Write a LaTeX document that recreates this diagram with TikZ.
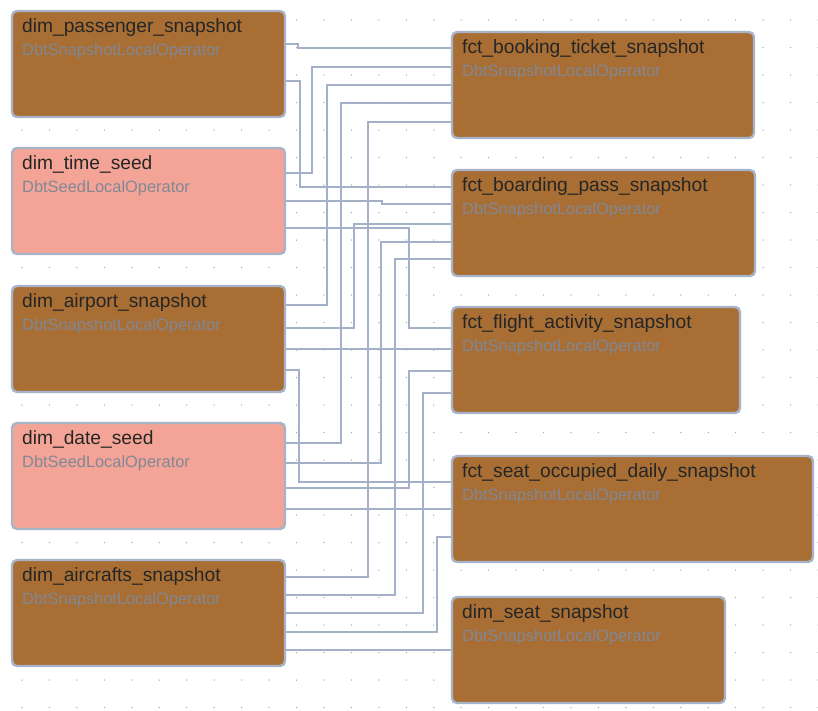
\documentclass[tikz,border=0pt]{standalone}
\usepackage{fontspec}
\setmainfont{Liberation Sans}
\definecolor{snapfill}{RGB}{168,110,52}
\definecolor{seedfill}{RGB}{244,164,151}
\definecolor{edgecol}{RGB}{163,176,199}
\definecolor{bordercol}{RGB}{166,179,200}
\definecolor{titlecol}{RGB}{38,38,38}
\definecolor{subcol}{RGB}{128,136,150}
\definecolor{dotcol}{RGB}{170,170,170}
\pgfdeclarelayer{gridlayer}
\pgfdeclarelayer{edgelayer}
\pgfsetlayers{gridlayer,edgelayer,main}
\tikzset{
  taskbox/.style={draw=bordercol, line width=2.4pt, rounded corners=5pt, anchor=north west, inner sep=0pt, outer sep=0pt},
  snap/.style={taskbox, fill=snapfill},
  seed/.style={taskbox, fill=seedfill},
  tasktitle/.style={anchor=base west, inner sep=0pt, text=titlecol, font=\fontsize{19.2}{22}\selectfont},
  tasksub/.style={anchor=base west, inner sep=0pt, text=subcol, font=\fontsize{16.4}{19}\selectfont},
  edge/.style={draw=edgecol, line width=2.8pt},
}
\newcommand\task[8]{%
  \node[#2, minimum width=#5pt, minimum height=#6pt] (#1) at (#3,#4) {};
  \node[tasktitle] (#1-t) at ([xshift=10pt,yshift=-21pt]#1.north west) {#7};
  \node[tasksub] (#1-s) at ([xshift=10pt,yshift=-44pt]#1.north west) {#8};
}
\begin{document}
\begin{tikzpicture}[x=1pt,y=-1pt]
\useasboundingbox (0,0) rectangle (818,710);
\begin{pgfonlayer}{gridlayer}
  \foreach \i in {0,...,29} {
    \foreach \j in {0,...,25} {
      \fill[dotcol] ({22+27.45*\i},{20+27.5*\j}) circle (0.75pt);
    }
  }
\end{pgfonlayer}
% left column
\task{pas}{snap}{12}{11}{273}{106}{dim\_passenger\_snapshot}{DbtSnapshotLocalOperator}
\task{time}{seed}{12}{148}{273}{106}{dim\_time\_seed}{DbtSeedLocalOperator}
\task{air}{snap}{12}{286}{273}{106}{dim\_airport\_snapshot}{DbtSnapshotLocalOperator}
\task{date}{seed}{12}{423}{273}{106}{dim\_date\_seed}{DbtSeedLocalOperator}
\task{airc}{snap}{12}{560}{273}{106}{dim\_aircrafts\_snapshot}{DbtSnapshotLocalOperator}
% right column
\task{book}{snap}{452}{32}{302}{106}{fct\_booking\_ticket\_snapshot}{DbtSnapshotLocalOperator}
\task{board}{snap}{452}{170}{303}{106}{fct\_boarding\_pass\_snapshot}{DbtSnapshotLocalOperator}
\task{flight}{snap}{452}{307}{288}{106}{fct\_flight\_activity\_snapshot}{DbtSnapshotLocalOperator}
\task{occ}{snap}{452}{456}{361}{106}{fct\_seat\_occupied\_daily\_snapshot}{DbtSnapshotLocalOperator}
\task{seat}{snap}{452}{597}{273}{106}{dim\_seat\_snapshot}{DbtSnapshotLocalOperator}
\begin{pgfonlayer}{edgelayer}
  % passenger
  \draw[edge] (pas.east |- 0,44) -| (298,48) -- (book.west |- 0,48);
  \draw[edge] (pas.east |- 0,81) -| (300,187) -- (board.west |- 0,187);
  % time
  \draw[edge] (time.east |- 0,173) -| (312,67) -- (book.west |- 0,67);
  \draw[edge] (time.east |- 0,201) -| (382,204) -- (board.west |- 0,204);
  \draw[edge] (time.east |- 0,228) -| (409,328) -- (flight.west |- 0,328);
  % airport
  \draw[edge] (air.east |- 0,305) -| (327,85) -- (book.west |- 0,85);
  \draw[edge] (air.east |- 0,328) -| (354,224) -- (board.west |- 0,224);
  \draw[edge] (air.east |- 0,349) -- (flight.west |- 0,349);
  \draw[edge] (air.east |- 0,370) -| (299,482) -- (occ.west |- 0,482);
  % date
  \draw[edge] (date.east |- 0,443) -| (341,103) -- (book.west |- 0,103);
  \draw[edge] (date.east |- 0,463) -| (381,242) -- (board.west |- 0,242);
  \draw[edge] (date.east |- 0,488) -| (409,371) -- (flight.west |- 0,371);
  \draw[edge] (date.east |- 0,509) -- (occ.west |- 0,509);
  % aircrafts
  \draw[edge] (airc.east |- 0,577) -| (368,122) -- (book.west |- 0,122);
  \draw[edge] (airc.east |- 0,595) -| (395,259) -- (board.west |- 0,259);
  \draw[edge] (airc.east |- 0,613) -| (423,393) -- (flight.west |- 0,393);
  \draw[edge] (airc.east |- 0,632) -| (437,537) -- (occ.west |- 0,537);
  \draw[edge] (airc.east |- 0,650) -- (seat.west |- 0,650);
\end{pgfonlayer}
\end{tikzpicture}
\end{document}
